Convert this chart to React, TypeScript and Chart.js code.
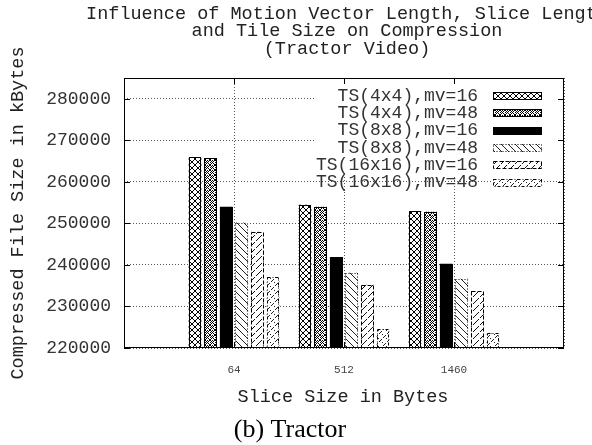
import React, { useEffect, useRef } from 'react';
import { Chart, registerables } from 'chart.js';

Chart.register(...registerables);

const CATEGORIES = ['64', '512', '1460'];
const SERIES_LABELS = [
  'TS(4x4),mv=16',
  'TS(4x4),mv=48',
  'TS(8x8),mv=16',
  'TS(8x8),mv=48',
  'TS(16x16),mv=16',
  'TS(16x16),mv=48',
];
const TS4_MV16 = [266000, 254500, 253000];
const TS4_MV48 = [265700, 254000, 252800];
const TS8_MV16 = [254000, 241800, 240300];
const TS8_MV48 = [250200, 238100, 236700];
const TS16_MV16 = [248000, 235200, 233700];
const TS16_MV48 = [237100, 224600, 223500];
const SERIES = [TS4_MV16, TS4_MV48, TS8_MV16, TS8_MV48, TS16_MV16, TS16_MV48];

const Y_TICKS = [220000, 230000, 240000, 250000, 260000, 270000, 280000];
const Y_MIN = 220000;
const Y_MAX = 285000;

const TITLE_LINES = [
  'Influence of Motion Vector Length, Slice Length',
  'and Tile Size on Compression',
  '(Tractor Video)',
];
const X_TITLE = 'Slice Size in Bytes';
const Y_TITLE = 'Compressed File Size in kBytes';
const CAPTION = '(b) Tractor';

const MONO = '"Liberation Mono", "DejaVu Sans Mono", monospace';
const BORDER_DASHES: number[][] = [[], [], [], [1, 2], [4, 2], [3, 2, 1, 2]];

function makePattern(kind: number): CanvasPattern | string {
  if (kind === 2) return '#000';
  const c = document.createElement('canvas');
  let s = 6;
  if (kind === 1) s = 5;
  if (kind === 3 || kind === 4) s = 7;
  if (kind === 5) s = 8;
  c.width = s;
  c.height = s;
  const g = c.getContext('2d') as CanvasRenderingContext2D;
  g.fillStyle = '#fff';
  g.fillRect(0, 0, s, s);
  g.fillStyle = '#000';
  const px = (x: number, y: number) => g.fillRect(x, y, 1, 1);
  if (kind === 0) {
    for (let i = 0; i < s; i++) {
      px(i, i);
      px(s - 1 - i, i);
    }
  } else if (kind === 1) {
    for (let i = 0; i < s; i++) {
      px(i, i);
      px(s - 1 - i, i);
    }
    px(0, 2);
    px(2, 0);
  } else if (kind === 3) {
    g.fillStyle = '#222';
    for (let i = 0; i < s; i++) px(i, i);
  } else if (kind === 4) {
    g.fillStyle = '#111';
    for (let i = 0; i < s; i++) if (i !== 3) px(s - 1 - i, i);
  } else if (kind === 5) {
    g.fillStyle = '#222';
    for (let i = 0; i < s; i += 2) {
      px(i, i);
      px(s - 1 - i, (i + 1) % s);
    }
  }
  const ctx = document.createElement('canvas').getContext('2d') as CanvasRenderingContext2D;
  return ctx.createPattern(c, 'repeat') as CanvasPattern;
}

export default function App() {
  const ref = useRef<HTMLCanvasElement | null>(null);

  useEffect(() => {
    const canvas = ref.current;
    if (!canvas) return;
    const fills = SERIES.map((_, i) => makePattern(i));

    const decor = {
      id: 'decor',
      afterDatasetsDraw(chart: any) {
        const ctx = chart.ctx as CanvasRenderingContext2D;
        const area = chart.chartArea;
        ctx.save();
        // bar outlines
        chart.data.datasets.forEach((_: any, di: number) => {
          const meta = chart.getDatasetMeta(di);
          meta.data.forEach((el: any, idx: number) => {
            const v = chart.data.datasets[di].data[idx];
            if (v === null || v === undefined) return;
            const p = el.getProps(['x', 'y', 'width'], true);
            const l = Math.round(p.x - p.width / 2) + 0.5;
            const r = Math.round(p.x + p.width / 2) - 0.5;
            const t = Math.round(p.y) + 0.5;
            const b = Math.round(area.bottom) - 0.5;
            ctx.setLineDash(BORDER_DASHES[di]);
            ctx.lineWidth = 1;
            ctx.strokeStyle = '#000';
            ctx.strokeRect(l, t, r - l, b - t);
          });
        });
        ctx.setLineDash([]);

        // legend (opaque key)
        ctx.fillStyle = '#fff';
        ctx.fillRect(315, area.top + 1, area.right - 316, 98);
        ctx.font = '18px ' + MONO;
        ctx.textAlign = 'right';
        ctx.textBaseline = 'middle';
        SERIES_LABELS.forEach((lab, i) => {
          const y = 96 + i * 17.3;
          ctx.fillStyle = '#333';
          ctx.fillText(lab, 478, y);
          const sx = 493;
          const sw = 49;
          const sh = 8;
          const sy = Math.round(y - sh / 2);
          ctx.fillStyle = fills[i] as any;
          ctx.fillRect(sx, sy, sw, sh);
          ctx.setLineDash(BORDER_DASHES[i]);
          ctx.strokeStyle = '#000';
          ctx.lineWidth = 1;
          ctx.strokeRect(sx + 0.5, sy + 0.5, sw - 1, sh - 1);
          ctx.setLineDash([]);
        });

        // frame
        ctx.strokeStyle = '#000';
        ctx.lineWidth = 1;
        ctx.strokeRect(area.left + 0.5, area.top + 0.5, area.right - area.left - 1, area.bottom - area.top - 1);

        // inward ticks
        const ys = chart.scales.y;
        ctx.beginPath();
        Y_TICKS.forEach((v) => {
          const py = Math.round(ys.getPixelForValue(v)) + 0.5;
          ctx.moveTo(area.left, py);
          ctx.lineTo(area.left + 6, py);
          ctx.moveTo(area.right, py);
          ctx.lineTo(area.right - 6, py);
        });
        const xs = chart.scales.x;
        CATEGORIES.forEach((_, i) => {
          const pxv = Math.round(xs.getPixelForValue(i + 1)) + 0.5;
          ctx.moveTo(pxv, area.top);
          ctx.lineTo(pxv, area.top + 6);
          ctx.moveTo(pxv, area.bottom);
          ctx.lineTo(pxv, area.bottom - 6);
        });
        ctx.stroke();

        // titles
        ctx.fillStyle = '#222';
        ctx.textAlign = 'center';
        ctx.textBaseline = 'middle';
        ctx.font = '18.5px ' + MONO;
        TITLE_LINES.forEach((line, i) => {
          ctx.fillText(line, 347, 14 + i * 17.5);
        });
        ctx.fillText(X_TITLE, 343, 397);
        ctx.save();
        ctx.translate(18, (area.top + area.bottom) / 2);
        ctx.rotate(-Math.PI / 2);
        ctx.fillText(Y_TITLE, 0, 0);
        ctx.restore();
        ctx.font = '26px "Liberation Serif", "DejaVu Serif", serif';
        ctx.fillStyle = '#000';
        ctx.fillText(CAPTION, 290, 430);
        ctx.restore();
      },
    };

    const chart = new Chart(canvas, {
      type: 'bar',
      data: {
        labels: ['', ...CATEGORIES, ''],
        datasets: SERIES.map((vals, i) => ({
          label: SERIES_LABELS[i],
          data: [null, ...vals, null],
          backgroundColor: fills[i] as any,
          borderWidth: 0,
          categoryPercentage: 0.851,
          barPercentage: 0.81,
        })),
      },
      options: {
        animation: false,
        responsive: false,
        devicePixelRatio: 1,
        layout: { padding: { top: 78, right: 28, left: 0, bottom: 0 } },
        plugins: {
          legend: { display: false },
          title: { display: false },
          tooltip: { enabled: false },
        },
        scales: {
          x: {
            type: 'category',
            offset: false,
            grid: { display: true, offset: false, color: '#555', lineWidth: 1, drawTicks: false },
            border: { display: false, dash: [1, 2] },
            ticks: {
              autoSkip: false,
              maxRotation: 0,
              padding: 15,
              color: '#444',
              font: { family: MONO, size: 11 },
            },
            afterFit: (s: any) => {
              s.height = 97;
            },
          },
          y: {
            type: 'linear',
            min: Y_MIN,
            max: Y_MAX,
            grid: { display: true, color: '#555', lineWidth: 1, drawTicks: false },
            border: { display: false, dash: [1, 2] },
            afterBuildTicks: (s: any) => {
              s.ticks = Y_TICKS.map((v) => ({ value: v }));
            },
            ticks: {
              padding: 13,
              color: '#333',
              font: { family: MONO, size: 18 },
              callback: (v: any) => String(v),
            },
            afterFit: (s: any) => {
              s.width = 124;
            },
          },
        },
      },
      plugins: [decor],
    } as any);

    return () => chart.destroy();
  }, []);

  return (
    <div style={{ position: 'fixed', left: 0, top: 0, width: 592, height: 445, background: '#fff' }}>
      <canvas ref={ref} width={592} height={445} style={{ display: 'block', width: 592, height: 445 }} />
    </div>
  );
}
